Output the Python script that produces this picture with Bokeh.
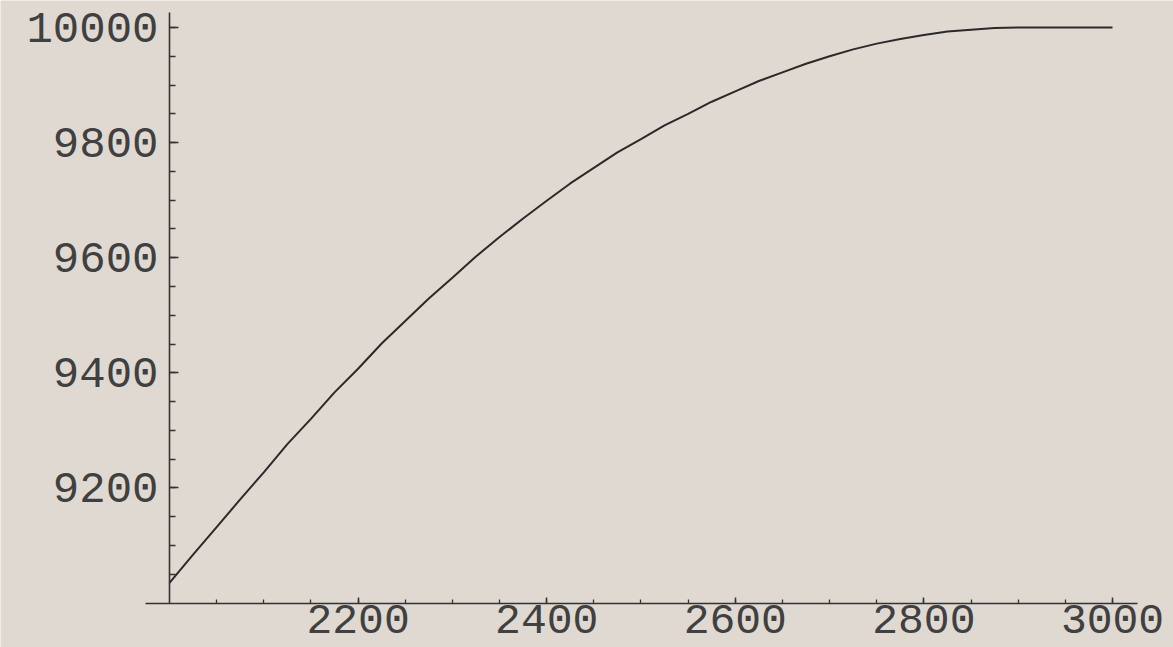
from bokeh.plotting import figure
from bokeh.models import LinearAxis, FixedTicker, Range1d
from bokeh.embed import file_html
from bokeh.resources import INLINE

# ---- data ----
x_values = [2000, 2025, 2050, 2075, 2100, 2125, 2150, 2175, 2200, 2225, 2250,
            2275, 2300, 2325, 2350, 2375, 2400, 2425, 2450, 2475, 2500,
            2525, 2550, 2575, 2600, 2625, 2650, 2675, 2700, 2725, 2750,
            2775, 2800, 2825, 2850, 2875, 2900, 2950, 3000]
y_values = [9035, 9084, 9132, 9180, 9227, 9276, 9320, 9366, 9407, 9451, 9490,
            9529, 9565, 9602, 9636, 9668, 9699, 9729, 9756, 9783, 9806,
            9830, 9850, 9871, 9889, 9907, 9922, 9937, 9950, 9962, 9972,
            9980, 9987, 9993, 9996, 9999, 10000, 10000, 10000]

x_tick_values = [2200, 2400, 2600, 2800, 3000]
y_tick_values = [9200, 9400, 9600, 9800, 10000]
x_minor_values = list(range(2050, 3001, 50))
y_minor_values = list(range(9050, 10001, 50))

BG = "#dfd9d2"
INK = "#333333"
LABEL = "#404040"
FONT = "Liberation Mono"

p = figure(width=1173, height=647, output_backend="svg", toolbar_location=None,
           x_axis_location=None, y_axis_location=None,
           x_range=Range1d(1820.8, 3064.7), y_range=Range1d(8922.7, 10046.9),
           min_border_left=0, min_border_right=0, min_border_top=0, min_border_bottom=0)
p.background_fill_color = BG
p.border_fill_color = BG
p.outline_line_color = None
p.grid.visible = False

xaxis = LinearAxis(ticker=FixedTicker(ticks=x_tick_values, minor_ticks=x_minor_values),
                   fixed_location=9000, bounds=(1974.5, 3026.5))
yaxis = LinearAxis(ticker=FixedTicker(ticks=y_tick_values, minor_ticks=y_minor_values),
                   fixed_location=2000, bounds=(9000, 10026))
for ax in (xaxis, yaxis):
    ax.axis_line_color = INK
    ax.axis_line_width = 1.6
    ax.major_tick_line_color = INK
    ax.minor_tick_line_color = INK
    ax.major_tick_line_width = 1.5
    ax.minor_tick_line_width = 1.3
    ax.major_tick_out = 0
    ax.minor_tick_out = 0
    ax.major_label_text_font = FONT
    ax.major_label_text_color = LABEL
xaxis.major_label_text_font_size = "43px"
yaxis.major_label_text_font_size = "44px"
xaxis.major_tick_in = 6
xaxis.minor_tick_in = 4
yaxis.major_tick_in = 9
yaxis.minor_tick_in = 6
xaxis.major_label_standoff = 2
yaxis.major_label_standoff = 11
p.add_layout(xaxis, "below")
p.add_layout(yaxis, "left")

p.line(x_values, y_values, line_color="#2a2a2a", line_width=2)

open("out.html", "w").write(file_html(p, INLINE))
